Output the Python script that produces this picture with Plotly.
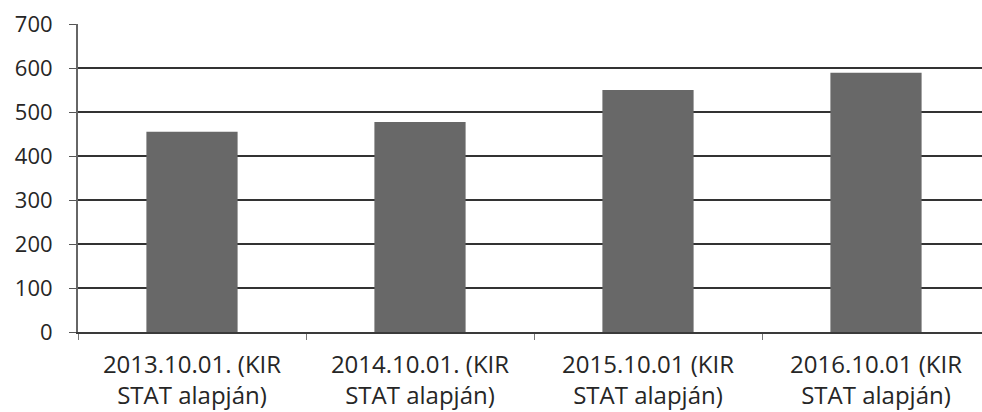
import plotly.graph_objects as go

categories = [
    "2013.10.01. (KIR<br>STAT alapján)",
    "2014.10.01. (KIR<br>STAT alapján)",
    "2015.10.01 (KIR<br>STAT alapján)",
    "2016.10.01 (KIR<br>STAT alapján)",
]
values = [455, 477, 550, 589]
y_ticks = [0, 100, 200, 300, 400, 500, 600, 700]

fig = go.Figure(
    go.Bar(
        x=categories,
        y=values,
        marker=dict(color="#686868", line=dict(width=0)),
    )
)

# plot area runs a little past the right edge of the window, as in the source
fig.update_layout(
    width=990,
    height=412,
    margin=dict(l=78, r=0, t=24, b=80),
    paper_bgcolor="white",
    plot_bgcolor="white",
    bargap=0.6,
    showlegend=False,
    font=dict(family="Open Sans", color="#262626"),
)
fig.update_yaxes(
    range=[0, 700],
    tickvals=y_ticks,
    showgrid=True,
    gridcolor="#333333",
    gridwidth=1.5,
    ticks="outside",
    ticklen=7,
    tickcolor="#555555",
    tickfont=dict(size=22),
    ticklabelstandoff=12,
    showline=True,
    linecolor="#666666",
    linewidth=2,
    zeroline=False,
    automargin=False,
)
fig.update_xaxes(
    showline=True,
    linecolor="#3a3a3a",
    linewidth=1.5,
    ticks="outside",
    tickson="boundaries",
    ticklen=6,
    tickcolor="#777777",
    tickfont=dict(size=24),
    ticklabelstandoff=10,
    automargin=False,
)

fig.write_html(
    "out.html",
    config={"displayModeBar": False},
    post_script="document.body.style.margin='0';document.body.style.overflow='hidden';",
)
